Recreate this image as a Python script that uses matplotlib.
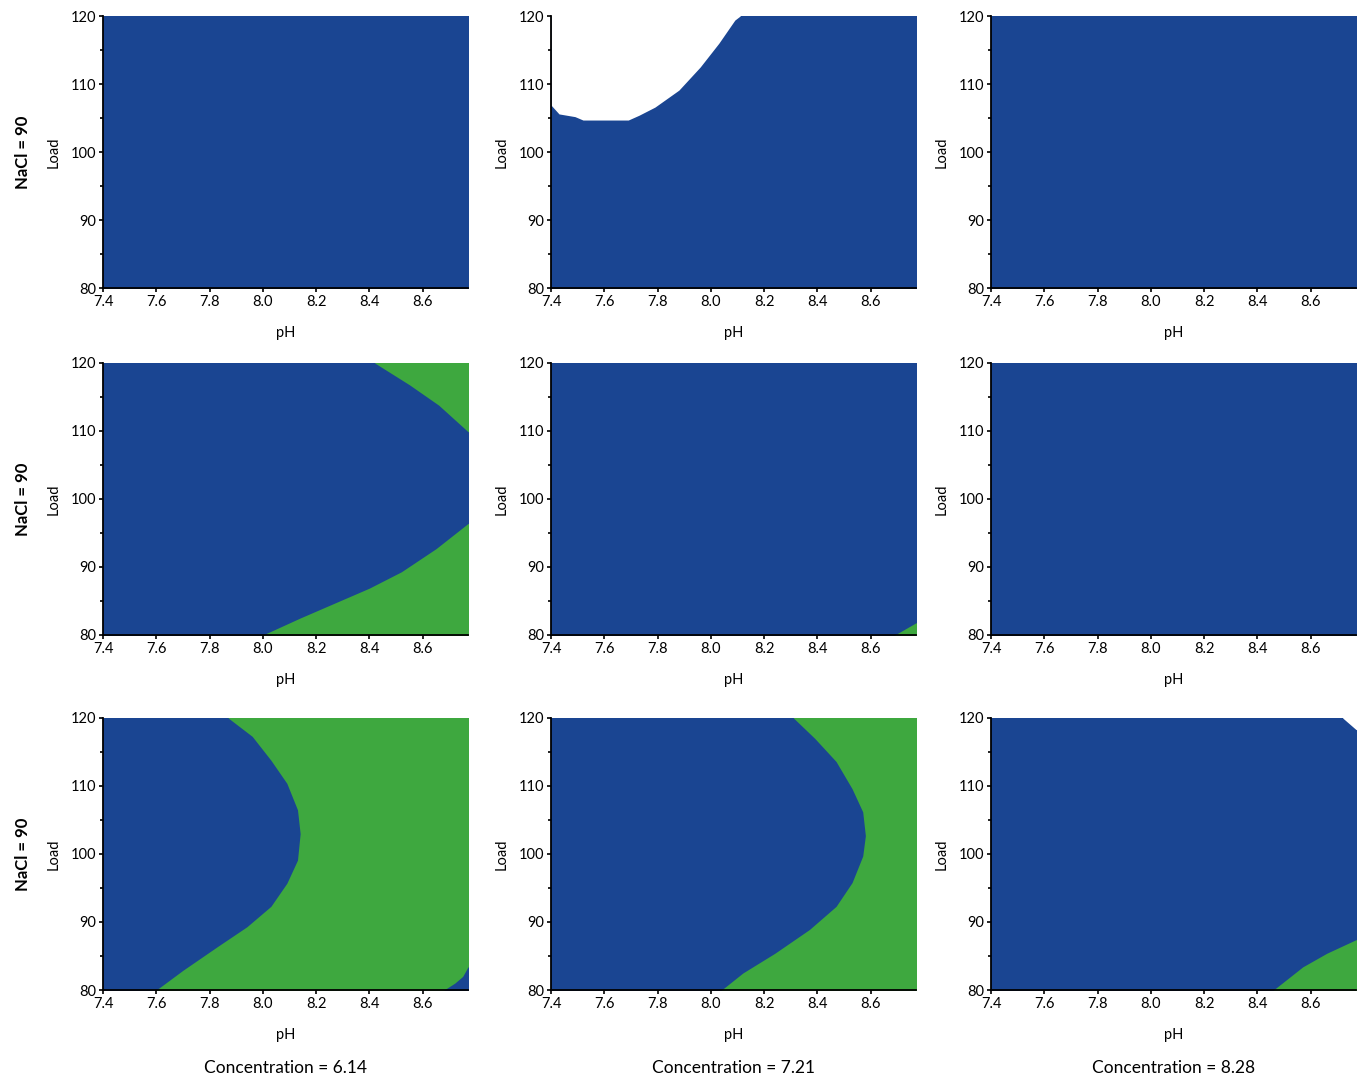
import numpy as np
import matplotlib
matplotlib.use("Agg")
import matplotlib.pyplot as plt

plt.rcParams['font.family'] = ['Lato', 'DejaVu Sans']

BLUE = "#1a4592"
GREEN = "#3ea83f"

PH_MIN, PH_MAX = 7.4, 8.77
LOAD_MIN, LOAD_MAX = 80, 120

row_labels = ["NaCl = 90", "NaCl = 90", "NaCl = 90"]
col_labels = ["Concentration = 6.14", "Concentration = 7.21", "Concentration = 8.28"]
ph_ticks = [7.4, 7.6, 7.8, 8.0, 8.2, 8.4, 8.6]
load_ticks = [80, 90, 100, 110, 120]

# boundaries
# row 0, col 1 : white (no prediction) above this curve
white_r0c1_ph = [7.40, 7.43, 7.49, 7.52, 7.69, 7.73, 7.79, 7.88, 7.96, 8.03, 8.09, 8.11]
white_r0c1_load = [106.9, 105.6, 105.2, 104.7, 104.7, 105.4, 106.6, 109.1, 112.5, 116.0, 119.4, 120.0]

# row 1, col 0 : two green wedges on the right
green_up_r1c0_load = [109.9, 113.8, 116.8, 120.0]
green_up_r1c0_ph = [8.77, 8.66, 8.55, 8.42]
green_lo_r1c0_load = [80.0, 82.5, 84.7, 86.9, 89.3, 92.7, 96.4]
green_lo_r1c0_ph = [8.00, 8.14, 8.27, 8.40, 8.52, 8.65, 8.77]

# row 1, col 1 : tiny green corner
green_r1c1_load = [80.0, 81.8]
green_r1c1_ph = [8.69, 8.77]

# row 2, col 0 : green right of the curve, small blue corner bottom right
green_r2c0_load = [80.0, 82.9, 86.4, 89.3, 92.3, 95.7, 99.1, 103.0, 106.5, 110.4, 113.8, 117.3, 120.0]
green_r2c0_ph = [7.60, 7.70, 7.83, 7.94, 8.03, 8.09, 8.13, 8.14, 8.13, 8.09, 8.03, 7.96, 7.87]
blue_r2c0_load = [80.0, 81.0, 82.0, 83.4]
blue_r2c0_ph = [8.68, 8.72, 8.75, 8.77]

# row 2, col 1
green_r2c1_load = [80.0, 82.5, 85.4, 88.9, 92.3, 95.8, 99.7, 102.7, 106.2, 109.6, 113.6, 117.0, 120.0]
green_r2c1_ph = [8.04, 8.12, 8.24, 8.37, 8.47, 8.53, 8.57, 8.58, 8.57, 8.53, 8.47, 8.39, 8.31]

# row 2, col 2 : green corner + white notch top right
green_r2c2_load = [80.0, 83.4, 85.4, 87.4]
green_r2c2_ph = [8.46, 8.57, 8.66, 8.77]
white_r2c2_load = [118.3, 120.0]
white_r2c2_ph = [8.77, 8.72]

# regions to the right of a boundary: (row, col) -> [(load, ph, colour)]
right_regions = {
    (1, 0): [(green_up_r1c0_load, green_up_r1c0_ph, GREEN),
             (green_lo_r1c0_load, green_lo_r1c0_ph, GREEN)],
    (1, 1): [(green_r1c1_load, green_r1c1_ph, GREEN)],
    (2, 0): [(green_r2c0_load, green_r2c0_ph, GREEN),
             (blue_r2c0_load, blue_r2c0_ph, BLUE)],
    (2, 1): [(green_r2c1_load, green_r2c1_ph, GREEN)],
    (2, 2): [(green_r2c2_load, green_r2c2_ph, GREEN),
             (white_r2c2_load, white_r2c2_ph, "white")],
}


def pad_edges(load, ph):
    # push regions touching the frame a bit past it (clipped anyway),
    # so no thin antialiased seam shows along the axes edge
    load, ph = list(load), list(ph)
    if load[0] == LOAD_MIN:
        load, ph = [LOAD_MIN - 1] + load, [ph[0]] + ph
    if load[-1] == LOAD_MAX:
        load, ph = load + [LOAD_MAX + 1], ph + [ph[-1]]
    return load, ph


fig = plt.figure(figsize=(13.65, 10.79), dpi=100)

lefts = [103 / 1365, 551 / 1365, 991 / 1365]
bottoms = [1 - 288 / 1079, 1 - 635 / 1079, 1 - 990 / 1079]
w, h = 365 / 1365, 272 / 1079
edge = PH_MAX + 0.1

for r in range(3):
    for c in range(3):
        ax = fig.add_axes([lefts[c], bottoms[r], w, h])
        # whole design space is blue first
        ax.fill_betweenx([LOAD_MIN - 1, LOAD_MAX + 1], PH_MIN - 0.1, edge, color=BLUE, lw=0)
        if (r, c) == (0, 1):
            ax.fill_between(white_r0c1_ph + [white_r0c1_ph[-1] + 0.01], white_r0c1_load + [LOAD_MAX + 1],
                            LOAD_MAX + 1, color="white", lw=0)
        for load, ph, col in right_regions.get((r, c), []):
            ld, p = pad_edges(load, ph)
            ax.fill_betweenx(ld, p, edge, color=col, lw=0)

        ax.set_xlim(PH_MIN, PH_MAX)
        ax.set_ylim(LOAD_MIN, LOAD_MAX)
        ax.set_xticks(ph_ticks)
        ax.set_xticklabels([f"{t:.1f}" for t in ph_ticks])
        ax.set_yticks(load_ticks)
        ax.set_yticks([85, 95, 105, 115], minor=True)
        ax.tick_params(labelsize=10.5, length=3, width=1.2, pad=2)
        ax.tick_params(which="minor", length=2, width=1.2)
        for s in ["top", "right"]:
            ax.spines[s].set_visible(False)
        for s in ["left", "bottom"]:
            ax.spines[s].set_linewidth(1.3)
        ax.set_xlabel("pH", fontsize=10.5, labelpad=12)
        ax.set_ylabel("Load", fontsize=10.5, labelpad=7)
        if c == 0:
            ax.text(-0.22, 0.5, row_labels[r], transform=ax.transAxes, rotation=90,
                    ha="center", va="center", fontsize=12, fontweight="bold")
        if r == 2:
            ax.text(0.5, -0.285, col_labels[c], transform=ax.transAxes,
                    ha="center", va="center", fontsize=12.5)

plt.savefig("out.png", dpi=100)
